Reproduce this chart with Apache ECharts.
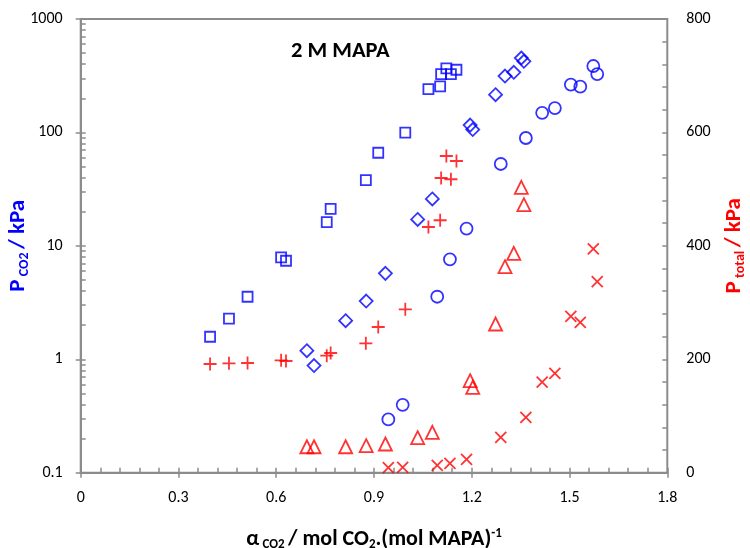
<!DOCTYPE html>
<html>
<head>
<meta charset="utf-8">
<script src="https://cdn.jsdelivr.net/npm/echarts@6/dist/echarts.min.js"></script>
<style>
html,body{margin:0;padding:0;background:#fff;}
#chart{width:750px;height:548px;}
</style>
</head>
<body>
<div id="chart"></div>
<script>
// x ticks
var xTicks = [0, 0.3, 0.6, 0.9, 1.2, 1.5, 1.8];
var leftTicks = [0.1, 1, 10, 100, 1000];
var rightTicks = [0, 200, 400, 600, 800];

// series 1 (squares: P_CO2, plus: P_total)
var alpha1 = [0.397, 0.455, 0.512, 0.615, 0.630, 0.755, 0.767, 0.875, 0.913, 0.996, 1.067, 1.103, 1.106, 1.122, 1.136, 1.153];
var pco2_1 = [1.58, 2.28, 3.56, 7.92, 7.39, 16.2, 21.2, 38.0, 66.2, 99.4, 241, 255, 327, 367, 327, 357];
var ptot_1 = [191.7, 192.9, 193.4, 198.2, 197.0, 206.3, 211.1, 228.2, 256.9, 288.1, 433.2, 445.1, 519.6, 558.4, 517.4, 549.6];

// series 2 (diamonds: P_CO2, triangles: P_total)
var alpha2 = [0.694, 0.716, 0.813, 0.876, 0.935, 1.034, 1.079, 1.195, 1.203, 1.273, 1.302, 1.329, 1.352, 1.360];
var pco2_2 = [1.19, 0.88, 2.19, 3.26, 5.72, 17.1, 25.9, 116, 106, 215, 314, 339, 453, 424];
var ptot_2 = [45.8, 45.8, 45.8, 47.6, 50.6, 61.7, 71.2, 162.2, 150.6, 262.2, 363.2, 386.9, 503.2, 472.6];

// series 3 (circles: P_CO2, crosses: P_total)
var alpha3 = [0.944, 0.988, 1.094, 1.133, 1.184, 1.289, 1.366, 1.416, 1.455, 1.504, 1.533, 1.573, 1.585];
var pco2_3 = [0.295, 0.397, 3.56, 7.60, 14.2, 52.7, 89.3, 149, 164, 264, 253, 385, 327];
var ptot_3 = [8.8, 9.5, 13.0, 16.6, 23.6, 62.4, 97.7, 159.9, 175.3, 275.8, 265.2, 394.5, 336.8];

function zip(a, b) { return a.map(function (v, i) { return [v, b[i]]; }); }

// minor tick values of the log axis (1..9 in each decade)
var logMinor = [];
leftTicks.forEach(function (d, i) {
  logMinor.push(d);
  if (i < leftTicks.length - 1) { for (var k = 2; k <= 9; k++) logMinor.push(+(d * k).toPrecision(3)); }
});

var FONT = 'Carlito, Lato, sans-serif';
var GRAY = '#8c8c8c';
var BLUE = '#0000ff';
var RED = '#ff0000';
var CLEAR = 'rgba(0,0,0,0)';

var chart = echarts.init(document.getElementById('chart'));

function hollow(color, w) { return { color: CLEAR, borderColor: color, borderWidth: w }; }
function plain(v) { return String(+v.toPrecision(6)); }
function tickAxis(extra) {
  var o = {
    axisLine: { show: true, lineStyle: { color: CLEAR, width: 0 } },
    axisTick: { show: true, inside: true, length: 5, lineStyle: { color: GRAY, width: 1.5 } },
    axisLabel: { show: false }, splitLine: { show: false }
  };
  for (var k in extra) o[k] = extra[k];
  return o;
}

chart.setOption({
  animation: false,
  backgroundColor: '#fff',
  title: {
    text: '2 M MAPA',
    left: 286, top: 35,
    textStyle: { fontFamily: FONT, fontWeight: 'bold', fontSize: 22.5, color: '#000' }
  },
  grid: { left: 80.7, right: 82.7, top: 19, bottom: 75.3, containLabel: false, outerBoundsMode: 'none', show: true, borderColor: GRAY, borderWidth: 2, backgroundColor: CLEAR },
  xAxis: [{
    type: 'value', min: xTicks[0], max: xTicks[xTicks.length - 1], interval: 0.3, position: 'bottom',
    axisLine: { lineStyle: { color: GRAY, width: 2 } },
    axisTick: { length: 5, lineStyle: { color: GRAY, width: 1.5 } },
    splitLine: { show: false },
    axisLabel: { fontFamily: FONT, fontSize: 16, color: '#000', margin: 17, formatter: plain },
    name: '{a|α} {s|CO2} {a|/ mol CO}{s|2}{a|.(mol MAPA)}{p|-1}',
    nameLocation: 'middle', nameGap: 55, nameMoveOverlap: false,
    nameTextStyle: {
      rich: {
        a: { fontFamily: FONT, fontWeight: 'bold', fontSize: 22, color: '#000', lineHeight: 24, verticalAlign: 'middle' },
        s: { fontFamily: FONT, fontWeight: 'bold', fontSize: 13, color: '#000', verticalAlign: 'bottom', lineHeight: 13 },
        p: { fontFamily: FONT, fontWeight: 'bold', fontSize: 13, color: '#000', verticalAlign: 'top', lineHeight: 13 }
      }
    }
  }, tickAxis({ type: 'value', min: 0, max: 1.8, interval: 0.06, position: 'bottom' })],
  yAxis: [{
    type: 'log', min: leftTicks[0], max: leftTicks[leftTicks.length - 1], logBase: 10, position: 'left',
    axisLine: { lineStyle: { color: GRAY, width: 2 } },
    axisTick: { length: 5, lineStyle: { color: GRAY, width: 1.5 } },
    splitLine: { show: false },
    axisLabel: { fontFamily: FONT, fontSize: 16, color: '#000', margin: 18, formatter: plain },
    name: '{a|P} {s|CO2} {a|/ kPa}',
    nameLocation: 'middle', nameGap: 49, nameMoveOverlap: false,
    nameTextStyle: {
      rich: {
        a: { fontFamily: FONT, fontWeight: 'bold', fontSize: 23, color: BLUE, lineHeight: 26, verticalAlign: 'middle' },
        s: { fontFamily: FONT, fontWeight: 'bold', fontSize: 14, color: BLUE, verticalAlign: 'bottom', lineHeight: 14 }
      }
    }
  }, {
    type: 'value', min: rightTicks[0], max: rightTicks[rightTicks.length - 1], interval: 200, position: 'right',
    axisLine: { lineStyle: { color: GRAY, width: 2 } },
    axisTick: { length: 5, lineStyle: { color: GRAY, width: 1.5 } },
    splitLine: { show: false },
    axisLabel: { fontFamily: FONT, fontSize: 16, color: '#000', margin: 19, formatter: plain },
    name: '{a|P} {s|total} {a|/ kPa}',
    nameLocation: 'middle', nameGap: 54, nameMoveOverlap: false,
    nameTextStyle: {
      rich: {
        a: { fontFamily: FONT, fontWeight: 'bold', fontSize: 23, color: RED, lineHeight: 26, verticalAlign: 'middle' },
        s: { fontFamily: FONT, fontWeight: 'bold', fontSize: 14, color: RED, verticalAlign: 'bottom', lineHeight: 14 }
      }
    }
  },
  tickAxis({ type: 'value', min: 0, max: 800, interval: 40, position: 'right' }),
  tickAxis({ type: 'log', min: 0.1, max: 1000, logBase: 10, position: 'left',
    axisTick: { show: true, inside: true, length: 5, customValues: logMinor, lineStyle: { color: GRAY, width: 1.5 } } })
  ],
  series: [
    { name: 'P_CO2 set 1', type: 'scatter', xAxisIndex: 0, yAxisIndex: 0, symbol: 'rect', symbolSize: 10, itemStyle: hollow(BLUE, 1.8), data: zip(alpha1, pco2_1) },
    { name: 'P_CO2 set 2', type: 'scatter', xAxisIndex: 0, yAxisIndex: 0, symbol: 'diamond', symbolSize: 13, itemStyle: hollow(BLUE, 1.8), data: zip(alpha2, pco2_2) },
    { name: 'P_CO2 set 3', type: 'scatter', xAxisIndex: 0, yAxisIndex: 3, symbol: 'circle', symbolSize: 12, itemStyle: hollow(BLUE, 1.8), data: zip(alpha3, pco2_3) },
    { name: 'P_total set 1', type: 'scatter', xAxisIndex: 1, yAxisIndex: 1, symbol: 'path://M5,0L5,10M0,5L10,5', symbolSize: 13, itemStyle: hollow(RED, 1.8), data: zip(alpha1, ptot_1) },
    { name: 'P_total set 2', type: 'scatter', xAxisIndex: 1, yAxisIndex: 1, symbol: 'triangle', symbolSize: 13, itemStyle: hollow(RED, 1.8), data: zip(alpha2, ptot_2) },
    { name: 'P_total set 3', type: 'scatter', xAxisIndex: 1, yAxisIndex: 2, symbol: 'path://M0,0L10,10M10,0L0,10', symbolSize: 11, itemStyle: hollow(RED, 1.8), data: zip(alpha3, ptot_3) }
  ]
});
</script>
</body>
</html>
